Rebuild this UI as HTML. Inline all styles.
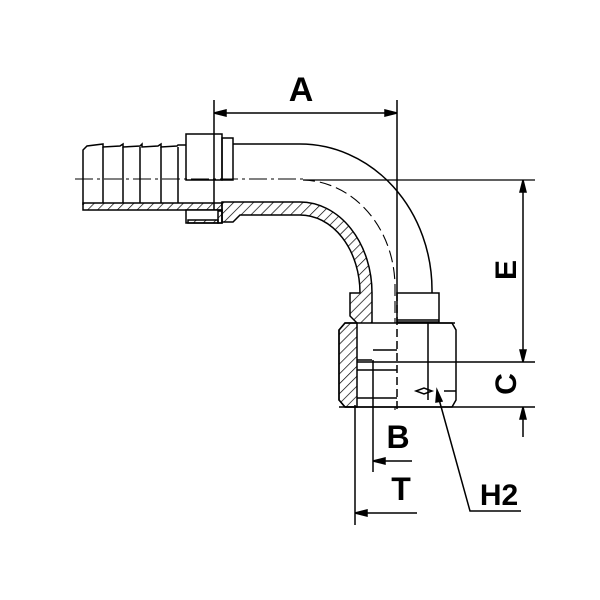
<!DOCTYPE html>
<html><head><meta charset="utf-8"><style>
html,body{margin:0;padding:0;background:#fff;}
svg{display:block;}
text{font-family:"Liberation Sans",sans-serif;font-weight:bold;fill:#000;}
</style></head><body>
<svg width="600" height="600" viewBox="0 0 600 600" xmlns="http://www.w3.org/2000/svg">
<defs>
<pattern id="h" width="7" height="7" patternUnits="userSpaceOnUse" patternTransform="rotate(45)">
<line x1="0" y1="0" x2="0" y2="7" stroke="#000" stroke-width="1.4"/>
</pattern>
</defs>
<g fill="none" stroke="#000" stroke-width="1.5">
<!-- hose barb -->
<path d="M83,205 L83,150 L87,146 L103,144 L103,147 L120,146 L123,144 L123,147 L140,146 L142,144 L142,147 L158,146 L161,144 L161,147 L177,146 L178,145 L186,145"/>
<line x1="103" y1="147" x2="103" y2="203"/><line x1="123" y1="147" x2="123" y2="203"/>
<line x1="140" y1="147" x2="140" y2="203"/><line x1="161" y1="147" x2="161" y2="203"/>
<line x1="178" y1="147" x2="178" y2="203"/>
<rect x="83" y="203" width="139" height="7" fill="url(#h)"/>
<!-- ferrule -->
<rect x="186" y="134" width="36" height="46" fill="#fff"/>
<rect x="186" y="210" width="36" height="13" fill="#fff"/>
<rect x="188" y="220" width="30" height="3" fill="url(#h)"/>
<rect x="218" y="211" width="4" height="12" fill="url(#h)"/>
<rect x="222" y="138" width="11" height="42"/>
<!-- pipe outer -->
<path d="M233,144 L300,144 A132,146 0 0 1 432,290 L432,293"/>
<!-- inner hatched bend -->
<path d="M222,202 L300,202 A72,91 0 0 1 372,293 L372,360 L357,360 L357,323 L350,316 L350,293 L360,293 A60,78 0 0 0 300,215 L240,215 L233,222 L222,222 Z" fill="url(#h)"/>
<!-- centre lines -->
<line x1="75" y1="179" x2="303" y2="179" stroke-dasharray="18,4,3,4" stroke-width="1"/>
<line x1="303" y1="180" x2="535" y2="180" stroke-width="1.2"/>
<path d="M303,180 A94,107 0 0 1 395,287 L395,410" stroke-dasharray="12,5" stroke-width="1.1"/>
<!-- collar -->
<rect x="397" y="293" width="42" height="29" fill="#fff"/>
<line x1="397" y1="320" x2="439" y2="320"/>
<!-- nut -->
<path d="M345,323 L339,330 L339,400 L345,407 L452,407 L456,400 L456,330 L452,323 Z" fill="#fff"/>
<path d="M345,323 L339,330 L339,400 L345,407 L357,407 L357,323 Z" fill="url(#h)"/>
<line x1="428" y1="323" x2="428" y2="400"/>
<path d="M397,323 L455,323"/>
<path d="M357,360 L372,360"/>
<line x1="373" y1="350" x2="397" y2="350"/>
<line x1="357" y1="362" x2="535" y2="362"/>
<line x1="357" y1="370" x2="397" y2="370"/>
<line x1="357" y1="398" x2="397" y2="398"/>
<line x1="339" y1="407" x2="535" y2="407"/>
<path d="M416,391 L424,388 L432,391 L424,394 Z M444,391 L456,391"/>
<line x1="397" y1="293" x2="397" y2="410" stroke-dasharray="8,4"/>
<!-- dimension A -->
<line x1="214" y1="100" x2="214" y2="210"/>
<line x1="397" y1="100" x2="397" y2="293"/>
<line x1="214" y1="113" x2="397" y2="113"/>
<path d="M214,113 L226,110 L226,116 Z M397,113 L385,110 L385,116 Z" fill="#000"/>
<!-- E and C -->
<line x1="523" y1="180" x2="523" y2="362"/>
<path d="M523,180 L520,192 L526,192 Z M523,362 L520,350 L526,350 Z" fill="#000"/>
<line x1="523" y1="407" x2="523" y2="437"/>
<path d="M523,407 L520,419 L526,419 Z" fill="#000"/>
<!-- B -->
<line x1="373" y1="360" x2="373" y2="472"/>
<line x1="373" y1="461" x2="412" y2="461"/>
<path d="M373,461 L385,458 L385,464 Z" fill="#000"/>
<!-- T -->
<line x1="355" y1="405" x2="355" y2="525"/>
<line x1="355" y1="513" x2="417" y2="513"/>
<path d="M355,513 L367,510 L367,516 Z" fill="#000"/>
<!-- H2 leader -->
<path d="M437,392 L470,511 L521,511"/>
<path d="M437,390 L436,402 L442,401 Z" fill="#000"/>
</g>
<text x="301" y="101" font-size="34" text-anchor="middle">A</text>
<text x="398" y="448" font-size="32" text-anchor="middle">B</text>
<text x="401" y="500" font-size="32" text-anchor="middle">T</text>
<text x="499" y="505" font-size="30" text-anchor="middle">H2</text>
<text transform="translate(516,270) rotate(-90)" font-size="30" text-anchor="middle">E</text>
<text transform="translate(516,384) rotate(-90)" font-size="30" text-anchor="middle">C</text>
</svg>
</body></html>
